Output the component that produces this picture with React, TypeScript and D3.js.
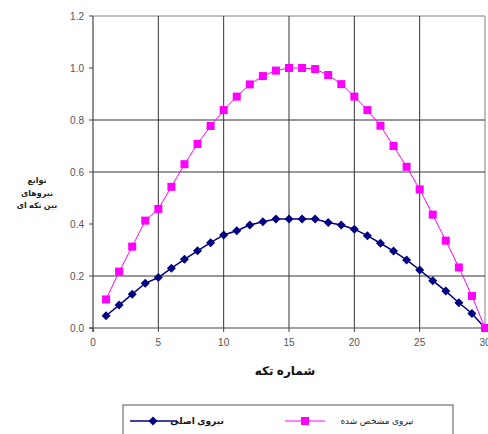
import React from "react";
import * as d3 from "d3";

const pieces = d3.range(1, 31);
const identified = [0.11,0.217,0.313,0.413,0.458,0.543,0.63,0.708,0.777,0.838,0.89,0.937,0.969,0.99,1.0,1.0,0.996,0.973,0.938,0.89,0.838,0.778,0.70,0.62,0.533,0.436,0.336,0.233,0.123,0.0];
const original = [0.047,0.088,0.13,0.172,0.194,0.23,0.264,0.297,0.328,0.358,0.374,0.396,0.409,0.419,0.419,0.419,0.419,0.406,0.396,0.38,0.355,0.326,0.296,0.262,0.223,0.182,0.142,0.097,0.056,0.0];
const xTicks = [0, 5, 10, 15, 20, 25, 30];
const yTicks = [0, 0.2, 0.4, 0.6, 0.8, 1.0, 1.2];
const yGrid = [0.2, 0.6, 0.8];
const xGrid = [5, 10, 15, 20, 25];
const yTitle = ["توابع", "نیروهای", "بین تکه ای"];
const xTitle = "شماره تکه";
const legendOriginal = "نیروی اصلی";
const legendIdentified = "نیروی مشخص شده";

const W = 488, H = 434;
const L = 93, R = 485, T = 16, B = 328;
const font = "'Liberation Sans', 'DejaVu Sans', Arial, sans-serif";

export default function App() {
  const x = d3.scaleLinear().domain([0, 30]).range([L, R]);
  const y = d3.scaleLinear().domain([0, 1.2]).range([B, T]);
  const line = d3.line<number>().x((_, i) => x(pieces[i])).y((d) => y(d));
  const diamond = (cx: number, cy: number, r: number) =>
    `M${cx},${cy - r}L${cx + r},${cy}L${cx},${cy + r}L${cx - r},${cy}Z`;

  return (
    <svg width={W} height={H} style={{ position: "absolute", left: 0, top: 0, background: "#fff" }} fontFamily={font}>
      <rect x={0} y={0} width={W} height={H} fill="#fff" />
      {/* borders */}
      <line x1={L} x2={R} y1={T} y2={T} stroke="#aaa" strokeWidth={1.5} />
      <line x1={R} x2={R} y1={T} y2={B} stroke="#aaa" strokeWidth={1.5} />
      {/* grid */}
      {yGrid.map((v) => (
        <line key={"gy" + v} x1={L} x2={R} y1={y(v)} y2={y(v)} stroke="#333" strokeWidth={1} />
      ))}
      {xGrid.map((v) => (
        <line key={"gx" + v} x1={x(v)} x2={x(v)} y1={T} y2={B} stroke="#333" strokeWidth={1} />
      ))}
      {/* axes */}
      <line x1={L} x2={L} y1={T} y2={B + 4} stroke="#444" strokeWidth={1.2} />
      <line x1={L - 4} x2={R} y1={B} y2={B} stroke="#444" strokeWidth={1.2} />
      {yTicks.map((v) => (
        <g key={"ty" + v}>
          <line x1={L - 4} x2={L} y1={y(v)} y2={y(v)} stroke="#444" />
          <text x={L - 9} y={y(v) + 3.5} fontSize={10} textAnchor="end" fill="#555">{v.toFixed(1)}</text>
        </g>
      ))}
      {xTicks.map((v) => (
        <g key={"tx" + v}>
          <line x1={x(v)} x2={x(v)} y1={B} y2={B + 4} stroke="#444" />
          <text x={x(v)} y={B + 18} fontSize={10} textAnchor="middle" fill="#555">{v}</text>
        </g>
      ))}
      {/* series */}
      <path d={line(identified) || ""} fill="none" stroke="#ff00ff" strokeWidth={1} />
      <path d={line(original) || ""} fill="none" stroke="#000080" strokeWidth={1.5} />
      {original.map((v, i) => (
        <path key={"o" + i} d={diamond(x(pieces[i]), y(v), 4.5)} fill="#000080" />
      ))}
      {identified.map((v, i) => (
        <rect key={"p" + i} x={x(pieces[i]) - 4} y={y(v) - 4} width={8} height={8} fill="#ff00ff" />
      ))}
      {/* titles */}
      {yTitle.map((t, i) => (
        <text key={"yt" + i} x={37} y={183 + i * 12.5} fontSize={8} fontWeight="bold" textAnchor="middle" fill="#222">{t}</text>
      ))}
      <text x={285} y={375} fontSize={12} fontWeight="bold" textAnchor="middle" fill="#111">{xTitle}</text>
      {/* legend */}
      <rect x={123} y={405} width={330} height={40} fill="#fff" stroke="#555" strokeWidth={1} />
      <line x1={130} x2={177} y1={421} y2={421} stroke="#000080" strokeWidth={1.5} />
      <path d={diamond(153, 421, 4.5)} fill="#000080" />
      <text x={197} y={424} fontSize={9} fontWeight="bold" textAnchor="middle" fill="#111">{legendOriginal}</text>
      <line x1={285} x2={325} y1={421} y2={421} stroke="#ff00ff" strokeWidth={1} />
      <rect x={301} y={417} width={8} height={8} fill="#ff00ff" />
      <text x={377} y={424} fontSize={9} textAnchor="middle" fill="#222">{legendIdentified}</text>
    </svg>
  );
}
